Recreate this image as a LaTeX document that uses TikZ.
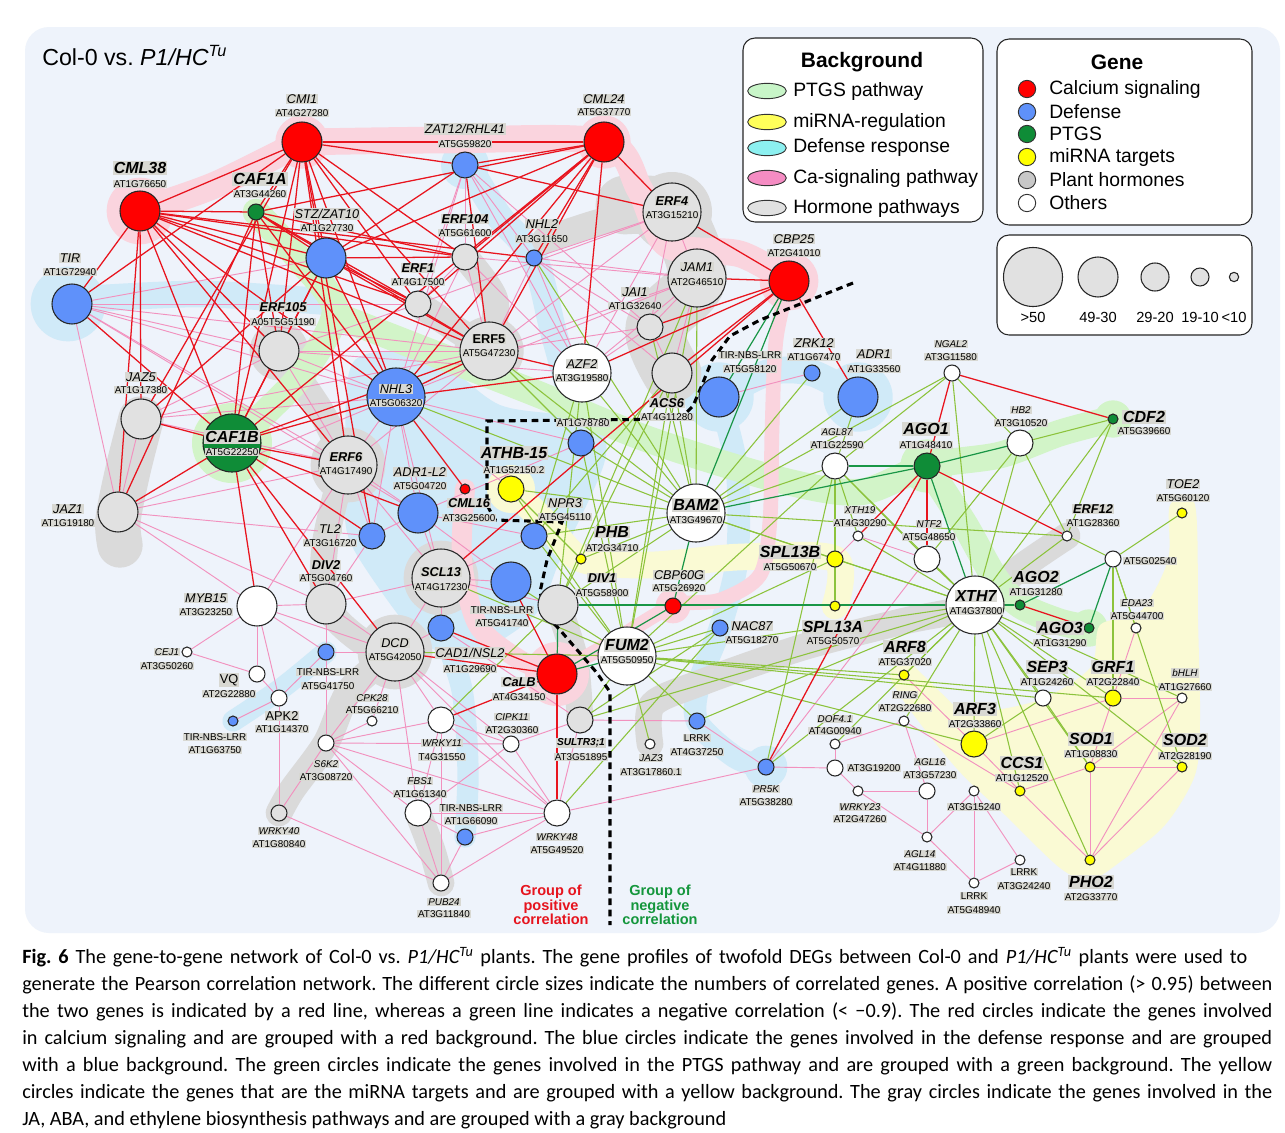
\documentclass[tikz,border=0pt]{standalone}
\usepackage{fontspec}
\setmainfont{Liberation Sans}
\newfontfamily\capfont{Carlito}
\usetikzlibrary{shapes.geometric}
\pgfdeclarelayer{blobs}
\pgfdeclarelayer{edges}
\pgfsetlayers{blobs,edges,main}
\definecolor{panel}{RGB}{238,243,251}
\definecolor{cRed}{RGB}{255,0,0}
\definecolor{cBlu}{RGB}{95,145,250}
\definecolor{cGrn}{RGB}{15,140,55}
\definecolor{cYel}{RGB}{255,255,0}
\definecolor{cGry}{RGB}{225,225,225}
\definecolor{cLeg}{RGB}{200,200,200}
\definecolor{eRed}{RGB}{232,20,30}
\definecolor{ePnk}{RGB}{242,145,190}
\definecolor{eLg}{RGB}{140,195,60}
\definecolor{eDg}{RGB}{25,150,70}
\definecolor{bPnk}{RGB}{250,212,222}
\definecolor{bBlu}{RGB}{208,234,248}
\definecolor{bGrn}{RGB}{210,244,200}
\definecolor{bYel}{RGB}{250,250,212}
\definecolor{bGry}{RGB}{218,218,218}
\definecolor{labc}{RGB}{216,216,210}
\definecolor{grpRed}{RGB}{230,20,30}
\definecolor{grpGrn}{RGB}{20,150,60}
\definecolor{lPtgs}{RGB}{200,245,200}
\definecolor{lMir}{RGB}{255,255,90}
\definecolor{lDef}{RGB}{140,240,240}
\definecolor{lCa}{RGB}{245,140,195}
\definecolor{lHor}{RGB}{225,225,225}
\tikzset{
 gene/.style={circle, draw=black!85, line width=0.8pt, inner sep=0pt},
 szXL/.style={minimum size=43.5pt},
 szL/.style={minimum size=30pt},
 szM/.style={minimum size=19.5pt},
 szS/.style={minimum size=12pt},
 szXS/.style={minimum size=7.5pt},
 lbase/.style={fill=labc, inner sep=0.7pt},
 nm/.style={lbase, font=\fontsize{9.5}{10}\selectfont\itshape},
 nms/.style={lbase, font=\fontsize{7.4}{8}\selectfont\itshape},
 nmb/.style={lbase, font=\fontsize{9.6}{10}\selectfont\bfseries\itshape},
 nmbs/.style={lbase, font=\fontsize{7.6}{8}\selectfont\bfseries\itshape},
 nmbl/.style={lbase, font=\fontsize{12}{13}\selectfont\bfseries\itshape},
 nmv/.style={lbase, font=\fontsize{9.6}{10}\selectfont},
 nmbu/.style={lbase, font=\fontsize{9.6}{10}\selectfont\bfseries},
 idf/.style={lbase, font=\fontsize{7.4}{8}\selectfont},
 eR/.style={draw=eRed, line width=0.95pt},
 eP/.style={draw=ePnk, line width=0.7pt},
 eG/.style={draw=eLg, line width=0.8pt},
 eD/.style={draw=eDg, line width=0.9pt},
 bandP/.style={draw=bPnk, line width=20pt, line cap=round, line join=round},
 bandB/.style={draw=bBlu, line width=20pt, line cap=round, line join=round},
 bandG/.style={draw=bGrn, line width=20pt, line cap=round, line join=round},
 bandY/.style={draw=bYel, line width=20pt, line cap=round, line join=round},
 bandH/.style={draw=bGry, line width=20pt, line cap=round, line join=round},
 sepline/.style={draw=black, line width=2.3pt, dash pattern=on 5pt off 3.5pt},
 legbox/.style={draw=black!85, fill=white, line width=0.8pt, rounded corners=9pt},
 capline/.style={anchor=base west, inner sep=0pt, font=\capfont\fontsize{15.2}{17}\selectfont}
}
\newcommand\gn[5]{\node[gene,sz#4,fill=#5] (#1) at (#2,#3) {};}
\newcommand\lb[7]{\node[#5] (#1-n) at (#2,#3) {#6};\node[idf] (#1-i) at (#2,#4) {#7};}
\frenchspacing
\begin{document}
\begin{tikzpicture}[x=0.75pt,y=-0.75pt]
\useasboundingbox (0,0) rectangle (1285,1132);
% ---------------- nodes
\gn{cml38}{140}{211}{L}{cRed}
\gn{cmi1}{302}{142}{L}{cRed}
\gn{caf1a}{256}{212}{S}{cGrn}
\gn{tir}{72}{304}{L}{cBlu}
\gn{stz}{326}{258}{L}{cBlu}
\gn{zat12}{465}{165}{M}{cBlu}
\gn{cml24}{604}{142}{L}{cRed}
\gn{erf104}{465}{257}{M}{cGry}
\gn{nhl2}{534}{258}{S}{cBlu}
\gn{erf1}{418}{304}{M}{cGry}
\gn{jai1}{650}{327}{M}{cGry}
\gn{erf4}{672}{212}{XL}{cGry}
\gn{jam1}{697}{278}{XL}{cGry}
\gn{cbp25}{789}{281}{L}{cRed}
\gn{erf105}{279}{351}{L}{cGry}
\gn{jaz5}{141}{419}{L}{cGry}
\gn{caf1b}{232}{443}{XL}{cGrn}
\gn{jaz1}{118}{512}{L}{cGry}
\gn{myb15}{257}{606}{L}{white}
\gn{nhl3}{396}{397}{XL}{cBlu}
\gn{erf5}{489}{351}{XL}{cGry}
\gn{azf2}{582}{373}{XL}{white}
\gn{erf6}{348}{465}{XL}{cGry}
\gn{at1g78780}{581}{443}{M}{cBlu}
\gn{athb15}{511}{489}{M}{cYel}
\gn{cml16}{465}{489}{XS}{cRed}
\gn{adr1l2}{418}{513}{L}{cBlu}
\gn{tl2}{372}{536}{M}{cBlu}
\gn{npr3}{534}{536}{M}{cBlu}
\gn{phb}{581}{559}{XS}{cYel}
\gn{scl13}{441}{578}{XL}{cGry}
\gn{div2}{326}{604}{L}{cGry}
\gn{tnl41740}{511}{582}{L}{cBlu}
\gn{div1}{558}{605}{L}{cGry}
\gn{cad1}{441}{628}{M}{cBlu}
\gn{dcd}{395}{652}{XL}{cGry}
\gn{calb}{557}{674}{L}{cRed}
\gn{tnl41750}{326}{652}{S}{cBlu}
\gn{cej1}{187}{652}{XS}{white}
\gn{vq}{257}{674}{S}{white}
\gn{apk2}{279}{698}{S}{white}
\gn{tnl63750}{233}{721}{XS}{cBlu}
\gn{cpk28}{372}{721}{XS}{white}
\gn{s6k2}{326}{743}{S}{white}
\gn{wrky11}{441}{720}{M}{white}
\gn{cipk11}{511}{744}{S}{white}
\gn{sultr}{580}{720}{M}{cGry}
\gn{fbs1}{418}{813}{M}{white}
\gn{tnl66090}{465}{837}{S}{cBlu}
\gn{wrky48}{557}{813}{M}{white}
\gn{pub24}{441}{883}{S}{white}
\gn{wrky40}{279}{813}{S}{cGry}
\gn{fum2}{627}{656}{XL}{white}
\gn{jaz3}{650}{744}{XS}{white}
\gn{bam2}{696}{513}{XL}{white}
\gn{acs6}{672}{373}{L}{cGry}
\gn{tnl58120}{719}{397}{L}{cBlu}
\gn{zrk12}{812}{373}{S}{cBlu}
\gn{adr1}{858}{397}{L}{cBlu}
\gn{agl87}{835}{466}{M}{white}
\gn{ago1}{927}{466}{M}{cGrn}
\gn{xth19}{858}{536}{XS}{white}
\gn{ntf2}{927}{559}{M}{white}
\gn{spl13b}{835}{559}{S}{cYel}
\gn{cbp60g}{673}{606}{S}{cRed}
\gn{spl13a}{835}{606}{XS}{cYel}
\gn{nac87}{720}{628}{S}{cBlu}
\gn{xth7}{975}{605}{XL}{white}
\gn{ngal2}{952}{373}{S}{white}
\gn{hb2}{1020}{443}{M}{white}
\gn{cdf2}{1113}{419}{XS}{cGrn}
\gn{toe2}{1182}{513}{XS}{cYel}
\gn{erf12}{1067}{536}{XS}{white}
\gn{at5g02540}{1113}{559}{S}{white}
\gn{ago2}{1020}{605}{XS}{cGrn}
\gn{ago3}{1089}{628}{XS}{cGrn}
\gn{eda23}{1136}{628}{XS}{white}
\gn{sep3}{1043}{698}{S}{white}
\gn{grf1}{1113}{698}{S}{cYel}
\gn{bhlh}{1182}{698}{XS}{white}
\gn{arf3}{974}{744}{M}{cYel}
\gn{sod1}{1090}{767}{XS}{cYel}
\gn{sod2}{1182}{767}{XS}{cYel}
\gn{ccs1}{1020}{791}{XS}{cYel}
\gn{at3g15240}{974}{791}{XS}{white}
\gn{lrrk24240}{1020}{860}{XS}{white}
\gn{lrrk48940}{974}{883}{XS}{white}
\gn{pho2}{1090}{860}{XS}{cYel}
\gn{arf8}{904}{675}{XS}{cYel}
\gn{ring}{904}{721}{XS}{white}
\gn{dof41}{835}{744}{XS}{white}
\gn{at3g19200}{835}{768}{S}{white}
\gn{wrky23}{858}{791}{XS}{white}
\gn{agl16}{927}{791}{S}{white}
\gn{agl14}{927}{837}{XS}{white}
\gn{lrrk37250}{697}{721}{S}{cBlu}
\gn{pr5k}{766}{767}{S}{cBlu}
% ---------------- labels
\lb{cml38}{140}{168}{184}{nmbl}{CML38}{AT1G76650}
\lb{cmi1}{302}{99}{113}{nm}{CMI1}{AT4G27280}
\lb{caf1a}{260}{179}{194}{nmbl}{CAF1A}{AT3G44260}
\lb{tir}{70}{258}{272}{nm}{TIR}{AT1G72940}
\lb{stz}{327}{214}{228}{nm}{STZ/ZAT10}{AT1G27730}
\lb{zat12}{465}{129}{144}{nm}{ZAT12/RHL41}{AT5G59820}
\lb{cml24}{604}{99}{112}{nm}{CML24}{AT5G37770}
\lb{erf104}{465}{219}{233}{nmb}{ERF104}{AT5G61600}
\lb{nhl2}{542}{224}{239}{nm}{NHL2}{AT3G11650}
\lb{erf1}{418}{268}{282}{nmb}{ERF1}{AT4G17500}
\lb{jai1}{635}{292}{306}{nm}{JAI1}{AT1G32640}
\lb{erf4}{672}{201}{215}{nmb}{ERF4}{AT3G15210}
\lb{jam1}{697}{267}{282}{nm}{JAM1}{AT2G46510}
\lb{cbp25}{794}{239}{253}{nm}{CBP25}{AT2G41010}
\lb{erf105}{283}{307}{322}{nmb}{ERF105}{A05T5G51190}
\lb{jaz5}{141}{377}{390}{nm}{JAZ5}{AT1G17380}
\lb{caf1b}{232}{437}{452}{nmbl}{CAF1B}{AT5G22250}
\lb{jaz1}{68}{509}{523}{nm}{JAZ1}{AT1G19180}
\lb{myb15}{206}{598}{612}{nm}{MYB15}{AT3G23250}
\lb{nhl3}{396}{389}{403}{nm}{NHL3}{AT5G06320}
\lb{erf5}{489}{339}{353}{nmbu}{ERF5}{AT5G47230}
\lb{azf2}{582}{364}{378}{nm}{AZF2}{AT3G19580}
\lb{erf6}{346}{457}{471}{nmb}{ERF6}{AT4G17490}
\node[idf] (at1g78780-i) at (583,423) {AT1G78780};
\lb{athb15}{514}{453}{470}{nmbl}{ATHB-15}{AT1G52150.2}
\lb{cml16}{469}{503}{518}{nmb}{CML16}{AT3G25600}
\lb{adr1l2}{420}{472}{486}{nm}{ADR1-L2}{AT5G04720}
\lb{tl2}{330}{529}{543}{nm}{TL2}{AT3G16720}
\lb{npr3}{565}{503}{517}{nm}{NPR3}{AT5G45110}
\lb{phb}{612}{532}{548}{nmbl}{PHB}{AT2G34710}
\lb{scl13}{441}{572}{587}{nmb}{SCL13}{AT4G17230}
\lb{div2}{326}{565}{578}{nmb}{DIV2}{AT5G04760}
\lb{tnl41740}{502}{610}{623}{idf}{TIR-NBS-LRR}{AT5G41740}
\lb{div1}{602}{578}{593}{nmb}{DIV1}{AT5G58900}
\lb{cad1}{470}{653}{669}{nm}{CAD1/NSL2}{AT1G29690}
\lb{dcd}{395}{643}{657}{nm}{DCD}{AT5G42050}
\lb{calb}{519}{682}{697}{nmb}{CaLB}{AT4G34150}
\lb{tnl41750}{328}{672}{686}{idf}{TIR-NBS-LRR}{AT5G41750}
\lb{cej1}{167}{652}{666}{nms}{CEJ1}{AT3G50260}
\lb{vq}{229}{680}{694}{nmv}{VQ}{AT2G22880}
\lb{apk2}{282}{716}{729}{nmv}{APK2}{AT1G14370}
\lb{tnl63750}{215}{737}{750}{idf}{TIR-NBS-LRR}{AT1G63750}
\lb{cpk28}{372}{698}{710}{nms}{CPK28}{AT5G66210}
\lb{s6k2}{326}{764}{777}{nms}{S6K2}{AT3G08720}
\lb{wrky11}{442}{743}{757}{nms}{WRKY11}{T4G31550}
\lb{cipk11}{512}{717}{730}{nms}{CIPK11}{AT2G30360}
\lb{sultr}{581}{743}{757}{nmbs}{SULTR3;1}{AT3G51895}
\lb{fbs1}{420}{781}{794}{nms}{FBS1}{AT1G61340}
\lb{tnl66090}{471}{808}{821}{idf}{TIR-NBS-LRR}{AT1G66090}
\lb{wrky48}{557}{837}{850}{nms}{WRKY48}{AT5G49520}
\lb{pub24}{444}{902}{914}{nms}{PUB24}{AT3G11840}
\lb{wrky40}{279}{831}{844}{nms}{WRKY40}{AT1G80840}
\lb{fum2}{627}{645}{660}{nmbl}{FUM2}{AT5G50950}
\lb{jaz3}{651}{758}{772}{nms}{JAZ3}{AT3G17860.1}
\lb{bam2}{696}{505}{520}{nmbl}{BAM2}{AT3G49670}
\lb{acs6}{667}{403}{417}{nmb}{ACS6}{AT4G11280}
\lb{tnl58120}{750}{355}{369}{idf}{TIR-NBS-LRR}{AT5G58120}
\lb{zrk12}{814}{343}{357}{nm}{ZRK12}{AT1G67470}
\lb{adr1}{874}{354}{369}{nm}{ADR1}{AT1G33560}
\lb{agl87}{837}{432}{445}{nms}{AGL87}{AT1G22590}
\lb{ago1}{926}{429}{445}{nmbl}{AGO1}{AT1G48410}
\lb{xth19}{860}{510}{523}{nms}{XTH19}{AT4G30290}
\lb{ntf2}{929}{524}{537}{nms}{NTF2}{AT5G48650}
\lb{spl13b}{790}{552}{567}{nmbl}{SPL13B}{AT5G50670}
\lb{cbp60g}{679}{575}{588}{nm}{CBP60G}{AT5G26920}
\lb{spl13a}{833}{627}{641}{nmbl}{SPL13A}{AT5G50570}
\lb{nac87}{752}{626}{640}{nm}{NAC87}{AT5G18270}
\lb{xth7}{976}{596}{611}{nmbl}{XTH7}{AT4G37800}
\lb{ngal2}{951}{344}{357}{nms}{NGAL2}{AT3G11580}
\lb{hb2}{1021}{410}{423}{nms}{HB2}{AT3G10520}
\lb{cdf2}{1144}{417}{431}{nmbl}{CDF2}{AT5G39660}
\lb{toe2}{1183}{484}{498}{nm}{TOE2}{AT5G60120}
\lb{erf12}{1093}{509}{523}{nmb}{ERF12}{AT1G28360}
\node[idf] (at5g02540-i) at (1150,561) {AT5G02540};
\lb{ago2}{1036}{577}{592}{nmbl}{AGO2}{AT1G31280}
\lb{ago3}{1060}{628}{643}{nmbl}{AGO3}{AT1G31290}
\lb{eda23}{1137}{603}{616}{nms}{EDA23}{AT5G44700}
\lb{sep3}{1047}{667}{682}{nmbl}{SEP3}{AT1G24260}
\lb{grf1}{1113}{667}{682}{nmbl}{GRF1}{AT2G22840}
\lb{bhlh}{1185}{673}{687}{nms}{bHLH}{AT1G27660}
\lb{arf3}{975}{709}{724}{nmbl}{ARF3}{AT2G33860}
\lb{sod1}{1091}{739}{754}{nmbl}{SOD1}{AT1G08830}
\lb{sod2}{1185}{740}{756}{nmbl}{SOD2}{AT2G28190}
\lb{ccs1}{1022}{763}{778}{nmbl}{CCS1}{AT1G12520}
\node[idf] (at3g15240-i) at (974,807) {AT3G15240};
\lb{lrrk24240}{1024}{872}{886}{idf}{LRRK}{AT3G24240}
\lb{lrrk48940}{974}{896}{910}{idf}{LRRK}{AT5G48940}
\lb{pho2}{1091}{882}{897}{nmbl}{PHO2}{AT2G33770}
\lb{arf8}{905}{647}{662}{nmbl}{ARF8}{AT5G37020}
\lb{ring}{905}{695}{708}{nms}{RING}{AT2G22680}
\lb{dof41}{835}{719}{731}{nms}{DOF4.1}{AT4G00940}
\node[idf] (at3g19200-i) at (874,768) {AT3G19200};
\lb{wrky23}{860}{807}{819}{nms}{WRKY23}{AT2G47260}
\lb{agl16}{930}{762}{775}{nms}{AGL16}{AT3G57230}
\lb{agl14}{920}{854}{867}{nms}{AGL14}{AT4G11880}
\lb{lrrk37250}{697}{738}{752}{idf}{LRRK}{AT4G37250}
\lb{pr5k}{766}{789}{802}{nms}{PR5K}{AT5G38280}
% ---------------- background panel and pathway bands
\begin{pgfonlayer}{blobs}
\fill[white] (0,0) rectangle (1285,1132);
\fill[panel, rounded corners=18pt] (25,27) rectangle (1280,933);
% defense (blue)
\fill[bBlu] (68,304) circle[radius=28pt];
\draw[bandB] plot[smooth] coordinates {(72,300) (200,294) (330,302)};
\fill[bBlu] (465,165) circle[radius=18pt];
\draw[bandB] plot[smooth] coordinates {(465,160) (498,215) (534,258) (553,330) (572,400) (581,443)};
\fill[bBlu] plot[smooth cycle] coordinates {(355,360) (430,355) (500,405) (590,420) (605,460) (560,560) (535,615) (470,655) (420,640) (360,560) (345,520) (345,440)};
\draw[bandB] plot[smooth] coordinates {(719,397) (770,372) (812,373) (858,397)};
\fill[bBlu] (858,397) circle[radius=26pt];
\fill[bBlu] (719,397) circle[radius=26pt];
\draw[bandB, line width=17pt] plot[smooth] coordinates {(719,397) (737,470) (737,560) (720,628) (700,680) (697,721) (735,757) (766,767)};
\fill[bBlu] (766,767) circle[radius=16pt];
\draw[bandB, line width=16pt] plot[smooth] coordinates {(233,721) (282,688) (326,652)};
\draw[bandB, line width=16pt] plot[smooth] coordinates {(441,628) (462,690) (468,770) (465,837)};
% hormones (gray)
\draw[bandH, line width=34pt] plot[smooth] coordinates {(141,419) (128,470) (118,520) (120,545)};
\fill[bGry] (672,212) circle[radius=30pt];
\draw[bandH, line width=44pt] plot[smooth] coordinates {(625,205) (672,212) (697,278) (655,327) (672,373)};
\draw[bandH] plot[smooth] coordinates {(465,257) (495,300) (489,351)};
\draw[bandH] (418,304) -- (489,351);
\draw[bandH] plot[smooth] coordinates {(545,240) (600,222) (650,212)};
\fill[bGry] (279,351) circle[radius=22pt];
\draw[bandH] plot[smooth] coordinates {(279,351) (320,410) (348,465)};
\fill[bGry] (348,465) circle[radius=28pt];
\draw[bandH] plot[smooth] coordinates {(340,480) (325,545) (326,604) (360,640) (395,652)};
\fill[bGry] (441,578) circle[radius=28pt];
\fill[bGry] (395,652) circle[radius=28pt];
\draw[bandH] plot[smooth] coordinates {(395,652) (350,690) (326,743) (292,790) (279,813)};
\draw[bandH] plot[smooth] coordinates {(558,605) (575,660) (580,720)};
\draw[bandH] plot[smooth] coordinates {(418,813) (432,850) (441,883)};
\draw[bandH] plot[smooth] coordinates {(650,744) (652,705) (700,683) (800,648) (900,622) (975,605) (1020,568) (1067,536)};
\fill[bGry] (489,351) circle[radius=26pt];
% PTGS (green)
\draw[bandG] plot[smooth] coordinates {(256,212) (300,260) (335,310) (305,370) (268,410) (232,443)};
\fill[bGrn] (232,443) circle[radius=30pt];
\draw[bandG] plot[smooth] coordinates {(335,315) (430,352) (540,395) (650,440) (780,480) (860,492) (927,466) (1000,455) (1060,433) (1113,419)};
\fill[bGrn] (927,466) circle[radius=20pt];
\fill[bGrn] (1113,419) circle[radius=14pt];
\draw[bandG] plot[smooth] coordinates {(927,466) (965,525) (995,578) (1020,605) (1060,622) (1089,628)};
\fill[bGrn] (1089,628) circle[radius=14pt];
% miRNA (yellow)
\draw[bandY] plot[smooth] coordinates {(511,489) (548,525) (581,559) (650,565) (740,557) (835,559) (835,606)};
\fill[bYel] (511,489) circle[radius=18pt];
\fill[bYel] plot[smooth cycle] coordinates {(1170,505) (1195,505) (1198,620) (1200,720) (1195,775) (1165,825) (1120,862) (1090,880) (1060,868) (1005,815) (958,770) (910,710) (890,675) (910,665) (945,712) (1033,702) (1090,668) (1100,625) (1140,612) (1168,560)};
\draw[bandY] (904,675) -- (974,744);
% Ca signaling (pink)
\draw[bandP] plot[smooth] coordinates {(140,211) (215,185) (302,142)};
\fill[bPnk] (140,211) circle[radius=25pt];
\fill[bPnk] (302,142) circle[radius=20pt];
\draw[bandP] plot[smooth] coordinates {(302,142) (450,140) (604,142) (640,190) (668,245) (740,254) (789,281)};
\fill[bPnk] (604,142) circle[radius=20pt];
\fill[bPnk] (789,281) circle[radius=22pt];
\draw[bandP, line width=11pt] plot[smooth] coordinates {(789,281) (776,340) (772,430) (770,520) (760,575) (720,600) (673,606) (615,640) (557,674)};
\fill[bPnk] (673,606) circle[radius=13pt];
\draw[bandP, line width=15pt] plot[smooth] coordinates {(465,489) (462,560) (478,625) (520,660) (557,674)};
\fill[bPnk] (557,674) circle[radius=24pt];
\end{pgfonlayer}
% ---------------- connectors
\begin{pgfonlayer}{edges}
\foreach \a/\b in {tir/erf105, tir/stz, tir/nhl3, tir/erf5, tir/erf6, tir/jaz1, tir/erf1, tir/adr1l2,
 zat12/erf104, zat12/erf1, zat12/nhl2, zat12/nhl3, zat12/jai1, zat12/azf2,
 erf104/erf1, erf104/erf5, erf104/nhl3, erf104/jam1, erf104/azf2,
 nhl2/erf5, nhl2/jai1, nhl2/erf4, nhl2/azf2, nhl2/acs6, nhl2/jam1,
 erf4/jam1, erf4/jai1, erf4/azf2, erf4/erf5, erf4/erf1,
 jam1/jai1, jam1/azf2, jam1/erf5, jam1/acs6, jam1/nhl3,
 jai1/acs6, jai1/azf2, jai1/erf5,
 erf105/erf5, erf105/nhl3, erf105/erf6, erf105/jaz5, erf105/erf1, erf105/azf2,
 jaz5/jaz1, jaz5/erf6, jaz5/nhl3, jaz5/erf5,
 jaz1/erf6, jaz1/nhl3, jaz1/myb15, jaz1/div2, jaz1/tl2,
 erf6/nhl3, erf6/adr1l2, erf6/tl2, erf6/div2, erf6/scl13, erf6/erf5, erf6/myb15,
 nhl3/adr1l2, nhl3/tl2, nhl3/at1g78780, nhl3/scl13, nhl3/athb15,
 adr1l2/tl2, adr1l2/scl13, adr1l2/npr3, adr1l2/tnl41740, adr1l2/at1g78780,
 myb15/div2, myb15/cej1, myb15/vq, myb15/apk2, myb15/tnl41750, myb15/dcd,
 div2/dcd, div2/tnl41750, div2/scl13, div2/tl2,
 dcd/cad1, dcd/scl13, dcd/tnl41750, dcd/wrky11, dcd/cipk11, dcd/fbs1, dcd/wrky48, dcd/s6k2, dcd/cpk28,
 s6k2/cpk28, s6k2/wrky11, s6k2/cipk11, s6k2/wrky40, s6k2/fbs1, s6k2/wrky48, s6k2/tnl41750, s6k2/pub24,
 wrky11/cipk11, wrky11/wrky48, wrky11/fbs1, wrky11/pub24,
 cipk11/wrky48, cipk11/fbs1, cipk11/sultr,
 fbs1/pub24, fbs1/wrky48, fbs1/tnl66090,
 tnl66090/pub24, tnl66090/wrky48, pub24/wrky48, pub24/wrky40,
 wrky40/apk2, apk2/tnl63750, apk2/vq, vq/cej1, apk2/tnl41750,
 sultr/wrky48, sultr/lrrk37250, sultr/cad1,
 scl13/tnl41740, scl13/cad1, scl13/div1, scl13/npr3,
 pr5k/lrrk37250, pr5k/at3g19200, pr5k/wrky48, ntf2/pr5k,
 at3g19200/dof41, at3g19200/wrky23, dof41/ring, ring/agl16, ring/ccs1,
 wrky23/agl16, wrky23/agl14, agl16/agl14, agl14/at3g15240, agl14/lrrk48940,
 at3g15240/lrrk48940, at3g15240/lrrk24240, lrrk48940/lrrk24240,
 arf8/arf3, xth19/spl13b, xth19/ntf2, spl13b/spl13a,
 arf3/grf1, arf3/ccs1, grf1/bhlh, grf1/sod1, bhlh/sod1, bhlh/pho2, sod1/sod2, sod1/pho2, sod2/pho2,
 ccs1/sod1, ccs1/pho2, eda23/grf1, tnl58120/zrk12}
 \draw[eP] (\a) -- (\b);
\foreach \a/\b in {bam2/acs6, bam2/jam1, bam2/jai1, bam2/erf5, bam2/azf2, bam2/at1g78780, bam2/athb15, bam2/npr3,
 bam2/phb, bam2/div1, bam2/agl87, bam2/adr1, bam2/ngal2, bam2/xth7, bam2/zrk12, bam2/erf12, bam2/nhl3,
 bam2/spl13b, bam2/nhl2,
 fum2/xth7, fum2/nac87, fum2/lrrk37250, fum2/jaz3, fum2/sultr, fum2/arf8, fum2/spl13b, fum2/agl87,
 fum2/athb15, fum2/npr3, fum2/arf3, fum2/sep3, fum2/grf1, fum2/dcd, fum2/scl13, fum2/tnl41740,
 fum2/azf2, fum2/acs6, fum2/at1g78780, fum2/jam1,
 nac87/sultr, lrrk37250/xth7, pr5k/agl87, pr5k/xth7, dof41/xth7, ring/xth7, wrky48/nac87, wrky11/div1, sultr/xth7,
 xth7/agl87, xth7/ntf2, xth7/hb2, xth7/cdf2, xth7/erf12, xth7/arf8, xth7/arf3, xth7/sep3, xth7/grf1,
 xth7/ccs1, xth7/pho2, xth7/sod2, xth7/bhlh, xth7/xth19, xth7/spl13b, xth7/ngal2, xth7/sod1,
 at5g02540/toe2, at5g02540/erf12, at5g02540/eda23, at5g02540/grf1, at5g02540/sod2,
 hb2/ngal2, hb2/cdf2, hb2/erf12, hb2/ntf2,
 ngal2/agl87, agl87/spl13b, agl87/spl13a, agl87/xth19, agl87/adr1, agl87/ntf2,
 athb15/phb, erf5/at1g78780, azf2/div1, azf2/npr3, acs6/div1, acs6/npr3, jam1/div1,
 sep3/arf3, sep3/sod1, erf12/cdf2}
 \draw[eG] (\a) -- (\b);
\foreach \a/\b in {cml38/cmi1, cml38/caf1a, cml38/stz, cml38/erf104, cml38/nhl2, cml38/erf1, cml38/erf5,
 cml38/nhl3, cml38/erf105, cml38/caf1b, cml38/jaz5, cml38/jaz1, cml38/erf6, cml38/tir,
 cmi1/cml24, cmi1/zat12, cmi1/stz, cmi1/erf104, cmi1/erf1, cmi1/erf5, cmi1/nhl3, cmi1/erf105,
 cmi1/caf1b, cmi1/jaz5, cmi1/tir, cmi1/caf1a, cmi1/erf6, cmi1/tl2,
 cml24/zat12, cml24/stz, cml24/erf104, cml24/nhl2, cml24/erf5, cml24/nhl3, cml24/erf4, cml24/azf2,
 cml24/caf1b, cml24/erf1, cml24/caf1a,
 caf1a/stz, caf1a/erf104, caf1a/erf1, caf1a/erf5, caf1a/nhl3, caf1a/caf1b, caf1a/erf105, caf1a/jaz1,
 stz/zat12, stz/erf104, stz/erf1, stz/erf5, stz/nhl3, stz/caf1b, stz/jaz5, stz/erf105,
 zat12/erf4, zat12/erf5,
 caf1b/erf105, caf1b/jaz5, caf1b/jaz1, caf1b/erf6, caf1b/nhl3, caf1b/erf5, caf1b/tl2, caf1b/div2,
 caf1b/adr1l2, caf1b/myb15, caf1b/dcd, caf1b/tir,
 nhl3/cml16, nhl3/erf5, erf5/azf2, nhl3/azf2,
 cbp25/erf4, cbp25/jam1, cbp25/jai1, cbp25/azf2, cbp25/scl13, cbp25/adr1, cbp25/acs6,
 calb/dcd, calb/cad1, calb/wrky11, calb/wrky48, calb/tnl41740,
 ago1/ngal2, ago1/xth19, ago1/erf12, ago1/ntf2, ago1/pr5k, ngal2/cdf2, ago2/ago3}
 \draw[eR] (\a) -- (\b);
\foreach \a/\b in {bam2/ago1, agl87/ago1, hb2/ago1, xth7/ago1, xth7/ago2, ago2/at5g02540, at5g02540/ago3,
 cbp25/bam2, cbp25/tnl58120, cbp60g/bam2, cbp60g/calb, calb/fum2, calb/div1, div1/xth7}
 \draw[eD] (\a) -- (\b);
\draw[sepline] (853,283) -- (760,320) -- (730,336) -- (712,360) -- (702,385) -- (693,406) -- (680,419)
 -- (487,421) -- (487,505) -- (495,520) -- (562,522) -- (547,560) -- (540,592) -- (546,615) -- (560,630)
 -- (597,673) -- (610,692) -- (610,925);
\end{pgfonlayer}
% ---------------- group texts
\node[font=\fontsize{10.9}{11}\selectfont\bfseries, text=grpRed, align=center] (gpos) at (551,905) {Group of\\positive\\correlation};
\node[font=\fontsize{10.9}{11}\selectfont\bfseries, text=grpGrn, align=center] (gneg) at (660,905) {Group of\\negative\\correlation};
% ---------------- title
\node[anchor=base west, inner sep=0pt, font=\fontsize{17.4}{20}\selectfont] (title) at (42,65) {Col-0 vs. \textit{P1/HC\textsuperscript{Tu}}};
% ---------------- legends
\draw[legbox] (743,38) rectangle (983,222);
\node[font=\fontsize{15.7}{16}\selectfont\bfseries] (bgT) at (862,62) {Background};
\foreach \y/\c/\t [count=\i] in {91/lPtgs/PTGS pathway, 122/lMir/miRNA-regulation, 148/lDef/Defense response, 178/lCa/Ca-signaling pathway, 208/lHor/Hormone pathways}{
 \node[ellipse, draw=black!80, line width=0.7pt, fill=\c, minimum width=29pt, minimum height=11.5pt, inner sep=0pt] (bgE\i) at (767,\y) {};
 \node[anchor=west, inner sep=0pt, font=\fontsize{14.5}{15}\selectfont] (bgL\i) at (793,\y) {\t};
}
\draw[legbox] (997,39) rectangle (1252,225);
\node[font=\fontsize{15.7}{16}\selectfont\bfseries] (gT) at (1117,62) {Gene};
\foreach \y/\c/\t [count=\i] in {89/cRed/Calcium signaling, 112/cBlu/Defense, 134/cGrn/PTGS, 157/cYel/miRNA targets, 180/cLeg/Plant hormones, 203/white/Others}{
 \node[circle, draw=black!80, line width=0.7pt, fill=\c, minimum size=13pt, inner sep=0pt] (gC\i) at (1027,\y) {};
 \node[anchor=west, inner sep=0pt, font=\fontsize{14.5}{15}\selectfont] (gL\i) at (1049,\y) {\t};
}
\draw[legbox] (997,235) rectangle (1252,335);
\foreach \x/\d/\t [count=\i] in {1033/44.25pt/>50, 1098/30pt/49-30, 1155/21pt/29-20, 1200/13.5pt/19-10, 1234/7pt/<10}{
 \node[circle, draw=black!85, line width=0.8pt, fill=cGry, minimum size=\d, inner sep=0pt] (sC\i) at (\x,277) {};
 \node[inner sep=0pt, font=\fontsize{11}{12}\selectfont] (sL\i) at (\x,317) {\t};
}
% ---------------- caption
\node[capline] (cap1) at (22,963) {\makebox[918.75pt][s]{\textbf{Fig. 6} The gene-to-gene network of Col-0 vs. \textit{P1/HC\textsuperscript{Tu}} plants. The gene profiles of twofold DEGs between Col-0 and \textit{P1/HC\textsuperscript{Tu}} plants were used to}};
\node[capline] (cap2) at (22,990) {\makebox[937.5pt][s]{generate the Pearson correlation network. The different circle sizes indicate the numbers of correlated genes. A positive correlation (> 0.95) between}};
\node[capline] (cap3) at (22,1017) {\makebox[937.5pt][s]{the two genes is indicated by a red line, whereas a green line indicates a negative correlation (< −0.9). The red circles indicate the genes involved}};
\node[capline] (cap4) at (22,1044) {\makebox[937.5pt][s]{in calcium signaling and are grouped with a red background. The blue circles indicate the genes involved in the defense response and are grouped}};
\node[capline] (cap5) at (22,1071) {\makebox[937.5pt][s]{with a blue background. The green circles indicate the genes involved in the PTGS pathway and are grouped with a green background. The yellow}};
\node[capline] (cap6) at (22,1098) {\makebox[937.5pt][s]{circles indicate the genes that are the miRNA targets and are grouped with a yellow background. The gray circles indicate the genes involved in the}};
\node[capline] (cap7) at (22,1125) {JA, ABA, and ethylene biosynthesis pathways and are grouped with a gray background};
\end{tikzpicture}
\end{document}
